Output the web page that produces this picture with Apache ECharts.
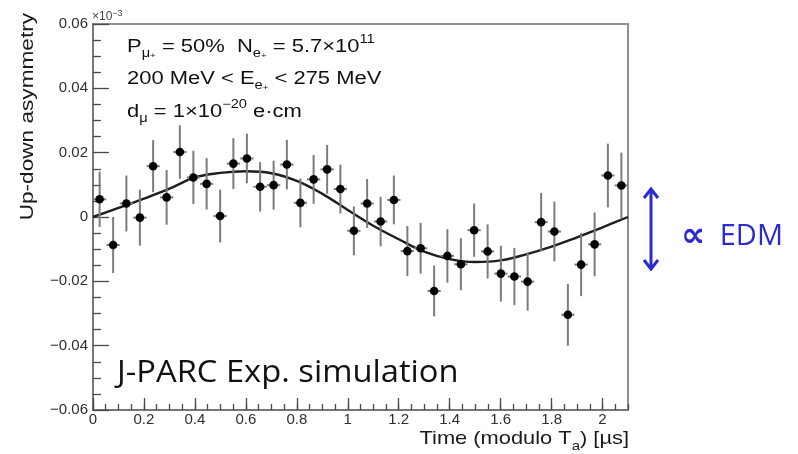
<!DOCTYPE html>
<html>
<head>
<meta charset="utf-8">
<script src="https://cdn.jsdelivr.net/npm/echarts@6/dist/echarts.min.js"></script>
<style>
  html, body { margin: 0; padding: 0; background: #ffffff; }
  #chart { width: 798px; height: 454px; }
</style>
</head>
<body>
<div id="chart"></div>
<script>
// Bin centres along the folded time axis (µs)
const binCenters = [0.026, 0.079, 0.131, 0.184, 0.236, 0.289, 0.341, 0.394, 0.446, 0.499,
                    0.551, 0.604, 0.656, 0.709, 0.761, 0.814, 0.866, 0.919, 0.971, 1.024,
                    1.076, 1.129, 1.181, 1.234, 1.286, 1.339, 1.391, 1.444, 1.496, 1.549,
                    1.601, 1.654, 1.706, 1.759, 1.811, 1.864, 1.916, 1.969, 2.021, 2.074];
// Up-down asymmetry per bin (units of 1e-3)
const asymmetry = [0.0055, -0.0087, 0.0042, -0.0002, 0.0158, 0.0061, 0.0202, 0.0123, 0.0103, 0.0003,
                   0.0166, 0.0182, 0.0094, 0.0099, 0.0163, 0.0044, 0.0117, 0.0148, 0.0087, -0.0043,
                   0.0042, -0.0014, 0.0053, -0.0106, -0.0097, -0.0230, -0.0121, -0.0147, -0.0041, -0.0107,
                   -0.0176, -0.0185, -0.0201, -0.0016, -0.0045, -0.0304, -0.0148, -0.0085, 0.0129, 0.0098];
// Statistical error per bin
const asymErr = [0.0086, 0.0087, 0.0087, 0.0087, 0.0081, 0.0085, 0.0083, 0.0083, 0.0080, 0.0082,
                 0.0079, 0.0077, 0.0077, 0.0076, 0.0077, 0.0076, 0.0076, 0.0076, 0.0076, 0.0076,
                 0.0076, 0.0077, 0.0076, 0.0078, 0.0079, 0.0079, 0.0083, 0.0081, 0.0083, 0.0084,
                 0.0087, 0.0089, 0.0090, 0.0091, 0.0093, 0.0096, 0.0098, 0.0099, 0.0099, 0.0102];
// Half bin width (horizontal error)
const binHalfWidth = 0.026;
// Fitted oscillation
const fitTime  = [0, 0.1, 0.2, 0.3, 0.4, 0.5, 0.6, 0.7, 0.8, 0.9, 1.0,
                  1.1, 1.2, 1.3, 1.4, 1.5, 1.6, 1.7, 1.8, 1.9, 2.0, 2.1];
const fitValue = [0, 0.0028, 0.0057, 0.0088, 0.0123, 0.0137, 0.0142, 0.0136, 0.0112, 0.0072, 0.0022,
                  -0.0027, -0.0069, -0.0108, -0.0131, -0.0140, -0.0135, -0.0116, -0.0092, -0.0063, -0.0032, 0];
// Axis ranges and ticks
const xRange = [0, 2.1];
const yRange = [-0.06, 0.06];
const xMajorStep = 0.2, xMinorStep = 0.05, yMajorStep = 0.02;

const chart = echarts.init(document.getElementById('chart'), null, { renderer: 'canvas' });

const helv = 'Liberation Sans, Arial, Helvetica, sans-serif';
const axisGrey = '#6f6f6f';
const tickStyle = { color: '#4a4a4a', width: 1.3 };
const edmBlue = '#2b2bcf';

function yLabel(v) {
  if (Math.abs(v) < 1e-9) return '0';
  const s = Math.abs(v).toFixed(2);
  return v < 0 ? '\u2212' + s : s;
}
function xLabel(v) {
  return String(parseFloat(v.toFixed(2)));
}

const points = binCenters.map((t, i) => [t, asymmetry[i], asymErr[i]]);
const fitLine = fitTime.map((t, i) => [t, fitValue[i]]);

const option = {
  backgroundColor: '#ffffff',
  animation: false,
  grid: {
    left: 93, right: 170, top: 24, bottom: 44,
    show: true, borderColor: '#8e8e8e', borderWidth: 2, backgroundColor: 'transparent'
  },
  xAxis: [
    {
      type: 'value', min: xRange[0], max: xRange[1], interval: xMajorStep,
      position: 'bottom',
      axisLine: { show: true, onZero: false, lineStyle: { color: axisGrey, width: 1.5 } },
      axisTick: { show: true, inside: true, length: 12, lineStyle: tickStyle },
      axisLabel: { show: true, margin: 2, showMaxLabel: false, formatter: xLabel,
                   fontFamily: helv, fontSize: 15, color: '#2e2e2e' },
      splitLine: { show: false }
    },
    {
      // minor ticks every 0.05 µs, drawn upward from the bottom frame
      type: 'value', min: xRange[0], max: xRange[1], interval: xMinorStep,
      position: 'top', offset: -386,
      axisLine: { show: false, onZero: false },
      axisTick: { show: true, inside: false, length: 6, lineStyle: tickStyle },
      axisLabel: { show: false },
      splitLine: { show: false }
    }
  ],
  yAxis: {
    type: 'value', min: yRange[0], max: yRange[1], interval: yMajorStep,
    axisLine: { show: true, onZero: false, lineStyle: { color: axisGrey, width: 1.5 } },
    axisTick: { show: true, inside: true, length: 16, lineStyle: tickStyle },
    minorTick: { show: true, splitNumber: 4, length: 8, lineStyle: tickStyle },
    axisLabel: { show: true, margin: 5, formatter: yLabel,
                 fontFamily: helv, fontSize: 15, color: '#2e2e2e' },
    splitLine: { show: false }
  },
  series: [
    {
      name: 'fit', type: 'line', data: fitLine, smooth: 0.4, showSymbol: false,
      lineStyle: { color: '#1e1e1e', width: 2.4 }, z: 2
    },
    {
      name: 'asymmetry', type: 'custom', data: points, z: 3,
      encode: { x: 0, y: 1 },
      renderItem(params, api) {
        const t = api.value(0), v = api.value(1), e = api.value(2);
        const c = api.coord([t, v]);
        const top = api.coord([t, v + e]);
        const bot = api.coord([t, v - e]);
        const l = api.coord([t - binHalfWidth, v]);
        const r = api.coord([t + binHalfWidth, v]);
        const stroke = { stroke: '#7c7c7c', lineWidth: 2 };
        return {
          type: 'group',
          children: [
            { type: 'line', shape: { x1: c[0], y1: top[1], x2: c[0], y2: bot[1] }, style: stroke },
            { type: 'line', shape: { x1: l[0], y1: c[1], x2: r[0], y2: c[1] }, style: stroke },
            { type: 'circle', shape: { cx: c[0], cy: c[1], r: 4.3 }, style: { fill: '#050505' } }
          ]
        };
      }
    }
  ],
  graphic: [
    // exponent of the y axis
    {
      type: 'text', x: 92, y: 9,
      style: {
        text: '{m|\u00d710}{s|\u22123}', fill: '#444',
        rich: {
          m: { fontFamily: helv, fontSize: 12, lineHeight: 16, verticalAlign: 'middle' },
          s: { fontFamily: helv, fontSize: 9, lineHeight: 5, verticalAlign: 'top' }
        }
      }
    },
    // y axis title
    {
      type: 'text', x: 28, y: 13, rotation: Math.PI / 2, scaleX: 1.19,
      style: { text: 'Up-down asymmetry', fontFamily: helv, fontSize: 19, fill: '#1a1a1a',
               align: 'right', verticalAlign: 'middle' }
    },
    // x axis title
    {
      type: 'text', x: 629, y: 425, scaleX: 1.15,
      style: {
        text: '{m|Time (modulo T}{s|a}{m|) [\u00b5s]}', fill: '#1a1a1a', align: 'right', verticalAlign: 'top',
        rich: {
          m: { fontFamily: helv, fontSize: 19, lineHeight: 28, verticalAlign: 'middle' },
          s: { fontFamily: helv, fontSize: 13, lineHeight: 10, verticalAlign: 'bottom' }
        }
      }
    },
    // simulation conditions
    {
      type: 'text', x: 127, y: 33.6, scaleX: 1.22,
      style: {
        text: '{m|P}{s|\u03bc}{p|+}{m| = 50%  N}{s|e}{p|+}{m| = 5.7\u00d710}{u|11}',
        fill: '#111', verticalAlign: 'top',
        rich: {
          m: { fontFamily: helv, fontSize: 18, lineHeight: 26, verticalAlign: 'middle' },
          s: { fontFamily: helv, fontSize: 12, lineHeight: 12, verticalAlign: 'bottom' },
          p: { fontFamily: helv, fontSize: 8, lineHeight: 20, verticalAlign: 'bottom' },
          u: { fontFamily: helv, fontSize: 12, lineHeight: 9, verticalAlign: 'top' }
        }
      }
    },
    {
      type: 'text', x: 127, y: 65.6, scaleX: 1.22,
      style: {
        text: '{m|200 MeV < E}{s|e}{p|+}{m| < 275 MeV}',
        fill: '#111', verticalAlign: 'top',
        rich: {
          m: { fontFamily: helv, fontSize: 18, lineHeight: 26, verticalAlign: 'middle' },
          s: { fontFamily: helv, fontSize: 12, lineHeight: 12, verticalAlign: 'bottom' },
          p: { fontFamily: helv, fontSize: 8, lineHeight: 20, verticalAlign: 'bottom' }
        }
      }
    },
    {
      type: 'text', x: 127, y: 98.6, scaleX: 1.22,
      style: {
        text: '{m|d}{s|\u03bc}{m| = 1\u00d710}{u|\u221220}{m| e\u00b7cm}',
        fill: '#111', verticalAlign: 'top',
        rich: {
          m: { fontFamily: helv, fontSize: 18, lineHeight: 26, verticalAlign: 'middle' },
          s: { fontFamily: helv, fontSize: 12, lineHeight: 12, verticalAlign: 'bottom' },
          u: { fontFamily: helv, fontSize: 12, lineHeight: 9, verticalAlign: 'top' }
        }
      }
    },
    // experiment label
    {
      type: 'text', x: 117, y: 373, scaleX: 1.055,
      style: { text: 'J-PARC Exp. simulation', fontFamily: 'Open Sans, Noto Sans, sans-serif',
               fontSize: 31, fill: '#111', verticalAlign: 'middle' }
    },
    // amplitude marker
    {
      type: 'line', shape: { x1: 651, y1: 189, x2: 651, y2: 269 },
      style: { stroke: edmBlue, lineWidth: 3 }
    },
    {
      type: 'polyline', shape: { points: [[644, 198], [651, 189], [658, 198]] },
      style: { stroke: edmBlue, lineWidth: 3, fill: null, lineJoin: 'miter' }
    },
    {
      type: 'polyline', shape: { points: [[644, 260], [651, 269], [658, 260]] },
      style: { stroke: edmBlue, lineWidth: 3, fill: null, lineJoin: 'miter' }
    },
    {
      type: 'text', x: 681, y: 237,
      style: {
        text: '{q|\u221d}{t| EDM}', fill: edmBlue, verticalAlign: 'middle',
        rich: {
          q: { fontFamily: 'DejaVu Sans, sans-serif', fontSize: 34, fontWeight: 'bold',
               lineHeight: 40, verticalAlign: 'middle', fill: edmBlue, padding: [0, 7, 0, 0] },
          t: { fontFamily: 'Open Sans, sans-serif', fontSize: 29, lineHeight: 40,
               verticalAlign: 'middle', fill: edmBlue }
        }
      }
    }
  ]
};

chart.setOption(option);
</script>
</body>
</html>
